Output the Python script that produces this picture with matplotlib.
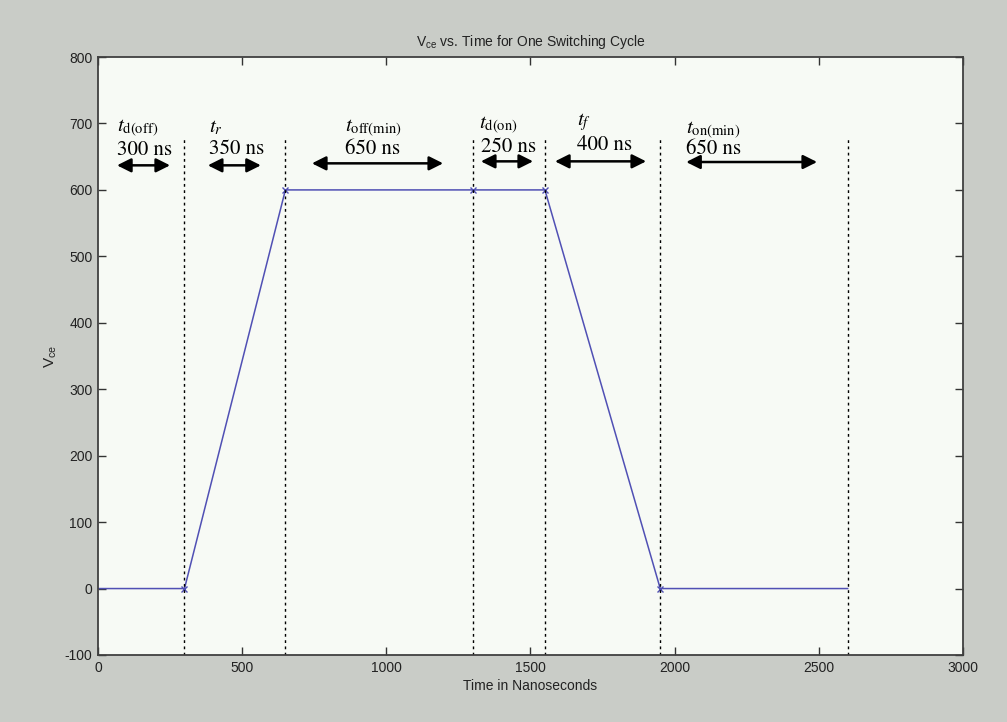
import matplotlib
matplotlib.use("Agg")
import matplotlib.pyplot as plt

plt.rcParams['axes.unicode_minus'] = False
plt.rcParams['mathtext.rm'] = 'Liberation Sans'

# Data
time_ns = [0, 300, 650, 1300, 1550, 1950, 2600]
vce = [0, 0, 600, 600, 600, 0, 0]
marker_t = [300, 650, 1300, 1550, 1950]
marker_v = [0, 600, 600, 600, 0]
boundaries = [300, 650, 1300, 1550, 1950, 2600]
boundary_top = 680

interval_names = [r'$t_{\mathrm{d(off)}}$', r'$t_r$', r'$t_{\mathrm{off(min)}}$',
                  r'$t_{\mathrm{d(on)}}$', r'$t_f$', r'$t_{\mathrm{on(min)}}$']
interval_values = ['300 ns', '350 ns', '650 ns', '250 ns', '400 ns', '650 ns']
arrow_start = [66, 381, 742, 1328, 1585, 2040]
arrow_end = [250, 565, 1197, 1509, 1901, 2494]
arrow_y = [637, 637, 640, 643, 643, 642]
name_x = [66, 385, 857, 1320, 1660, 2040]
name_y = [692, 695, 693, 697, 702, 690]
value_x = [66, 385, 857, 1328, 1660, 2040]
value_y = [660, 662, 662, 664, 668, 662]

xticks = [0, 500, 1000, 1500, 2000, 2500, 3000]
yticks = [-100, 0, 100, 200, 300, 400, 500, 600, 700, 800]

fig = plt.figure(figsize=(10.07, 7.22), dpi=100, facecolor='#c9ccc7')
ax = fig.add_axes([0.0973, 0.0928, 0.859, 0.8282])
ax.set_facecolor('#f7faf5')

ax.plot(time_ns, vce, color='#5050b4', lw=1.1)
ax.plot(marker_t, marker_v, ls='none', marker='x', ms=4, mew=1.0, color='#5050b4')

for b in boundaries:
    ax.plot([b, b], [-100, boundary_top], color='black', lw=1.0, ls=(0, (2.0, 2.5)))

for i in range(len(interval_names)):
    ax.annotate('', xy=(arrow_end[i], arrow_y[i]), xytext=(arrow_start[i], arrow_y[i]),
                arrowprops=dict(arrowstyle='<|-|>', color='black', lw=1.8,
                                mutation_scale=21, shrinkA=0, shrinkB=0))
    ax.text(name_x[i], name_y[i], interval_names[i], fontsize=15,
            math_fontfamily='stix', ha='left', va='center', color='black')
    ax.text(value_x[i], value_y[i], interval_values[i], fontsize=15,
            family='STIXGeneral', ha='left', va='center', color='black')

ax.set_xlim(0, 3000)
ax.set_ylim(-100, 800)
ax.set_xticks(xticks)
ax.set_yticks(yticks)
ax.tick_params(direction='in', length=6, width=1.0, color='#333333',
               top=True, right=True, labelsize=10, labelcolor='#222222', pad=4)
for lab in ax.get_xticklabels() + ax.get_yticklabels():
    lab.set_family('Liberation Sans')
for s in ax.spines.values():
    s.set_color('#404040')
    s.set_linewidth(1.3)

ax.set_title(r'V$_{\mathrm{ce}}$ vs. Time for One Switching Cycle', fontsize=10,
             family='Liberation Sans', math_fontfamily='custom', color='#222222', pad=8)
ax.set_xlabel('Time in Nanoseconds', fontsize=10, family='Liberation Sans', color='#222222', labelpad=3)
ax.set_ylabel(r'V$_{\mathrm{ce}}$', fontsize=11, family='Liberation Sans',
              math_fontfamily='custom', color='#222222', labelpad=4)

fig.savefig('out.png', dpi=100, facecolor=fig.get_facecolor())
